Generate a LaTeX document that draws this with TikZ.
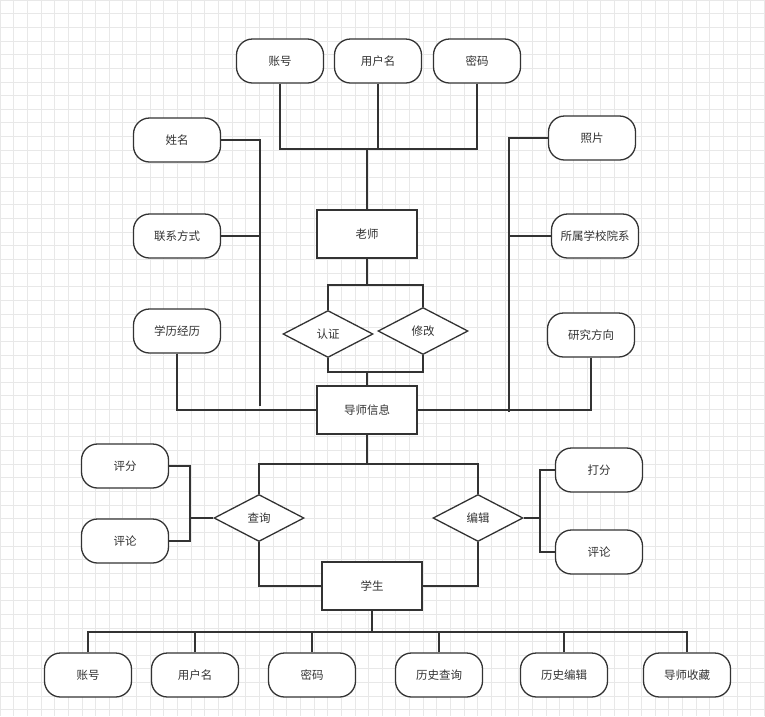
\documentclass[tikz,border=0pt]{standalone}
\usepackage{fontspec}
\setmainfont{Noto Sans CJK SC}
\usepackage{tikz}
\usetikzlibrary{shapes.geometric,calc}
\usepackage{xcolor}
\definecolor{edgecol}{RGB}{51,51,51}
\definecolor{gridcol}{RGB}{232,232,232}
\tikzset{
  attr/.style={rectangle,draw=edgecol,fill=white,rounded corners=16pt,minimum width=87pt,minimum height=44pt,line width=1.3pt,inner sep=1pt,font=\fontsize{11.5}{13}\selectfont,text=edgecol},
  entity/.style={rectangle,draw=edgecol,fill=white,minimum width=100pt,minimum height=48pt,line width=1.3pt,inner sep=1pt,font=\fontsize{11.5}{13}\selectfont,text=edgecol},
  relation/.style={diamond,draw=edgecol,fill=white,minimum width=90pt,minimum height=47pt,line width=1.3pt,inner sep=0pt,aspect=1.9,font=\fontsize{11.5}{13}\selectfont,text=edgecol},
  link/.style={draw=edgecol,line width=1.3pt}
}

\begin{document}
\begin{tikzpicture}[x=1pt,y=-1pt]
  \useasboundingbox (0,0) rectangle (765,716);
  % background grid
  \foreach \g in {0,13.65,...,765} \draw[gridcol,line width=0.8pt] (\g,0) -- (\g,716);
  \foreach \g in {0,13.65,...,716} \draw[gridcol,line width=0.8pt] (0,\g) -- (765,\g);

  % entities
  \node[entity] (teacher) at (367,234) {老师};
  \node[entity] (info)    at (367,410) {导师信息};
  \node[entity] (student) at (372,586) {学生};

  % relations
  \node[relation] (auth)   at (328,334) {认证};
  \node[relation] (modify) at (423,331) {修改};
  \node[relation] (query)  at (259,518) {查询};
  \node[relation] (edit)   at (478,518) {编辑};

  % teacher attributes
  \node[attr] (tAcct)  at (280,61)  {账号};
  \node[attr] (tName)  at (378,61)  {用户名};
  \node[attr] (tPwd)   at (477,61)  {密码};
  \node[attr] (tRealName) at (177,140) {姓名};
  \node[attr] (tContact)  at (177,236) {联系方式};
  \node[attr] (tEdu)      at (177,331) {学历经历};
  \node[attr] (tPhoto) at (592,138) {照片};
  \node[attr] (tDept)  at (595,236) {所属学校院系};
  \node[attr] (tField) at (591,335) {研究方向};

  % score attributes
  \node[attr] (rate)    at (125,466) {评分};
  \node[attr] (comment) at (125,541) {评论};
  \node[attr] (mark)    at (599,470) {打分};
  \node[attr] (remark)  at (599,552) {评论};

  % student attributes
  \node[attr] (sAcct)  at (88,675)  {账号};
  \node[attr] (sName)  at (195,675) {用户名};
  \node[attr] (sPwd)   at (312,675) {密码};
  \node[attr] (sQuery) at (439,675) {历史查询};
  \node[attr] (sEdit)  at (564,675) {历史编辑};
  \node[attr] (sFav)   at (687,675) {导师收藏};

  % junction points
  \coordinate (top)    at (367,149);
  \coordinate (tsplit) at (367,285);
  \coordinate (tjoin)  at (367,372);
  \coordinate (lbus)   at (260,406);
  \coordinate (rbus)   at (509,412);
  \coordinate (isplit) at (367,464);
  \coordinate (qbus)   at (190,518);
  \coordinate (ebus)   at (540,518);
  \coordinate (sbus)   at (372,632);

  % teacher attributes
  \draw[link] (tAcct.south) -- (tAcct.south |- top) -- (tPwd.south |- top) -- (tPwd.south);
  \draw[link] (tName.south) -- (tName.south |- top);
  \draw[link] (top) -- (teacher.north);
  \draw[link] (tRealName.east) -| (lbus);
  \draw[link] (tContact.east) -- (tContact.east -| lbus);
  \draw[link] (tEdu.south) |- (info.west);
  \draw[link] (tPhoto.west) -| (rbus);
  \draw[link] (tDept.west) -- (tDept.west -| rbus);
  \draw[link] (tField.south) |- (info.east);

  % teacher to info
  \draw[link] (teacher.south) -- (tsplit);
  \draw[link] (auth.north) -- (auth.north |- tsplit) -- (modify.north |- tsplit) -- (modify.north);
  \draw[link] (auth.south) -- (auth.south |- tjoin) -- (modify.south |- tjoin) -- (modify.south);
  \draw[link] (tjoin) -- (info.north);

  % info to student
  \draw[link] (info.south) -- (isplit);
  \draw[link] (query.north) -- (query.north |- isplit) -- (edit.north |- isplit) -- (edit.north);
  \draw[link] (query.south) |- (student.west);
  \draw[link] (edit.south) |- (student.east);
  \draw[link] (rate.east) -| (qbus) |- (comment.east);
  \draw[link] (qbus) -- (query.west);
  \draw[link] (mark.west) -| (ebus) |- (remark.west);
  \draw[link] (edit.east) -- (ebus);

  % student attributes
  \draw[link] (student.south) -- (sbus);
  \draw[link] (sAcct.north) -- (sAcct.north |- sbus) -- (sFav.north |- sbus) -- (sFav.north);
  \foreach \n in {sName,sPwd,sQuery,sEdit}
    \draw[link] (\n.north) -- (\n.north |- sbus);
\end{tikzpicture}
\end{document}
